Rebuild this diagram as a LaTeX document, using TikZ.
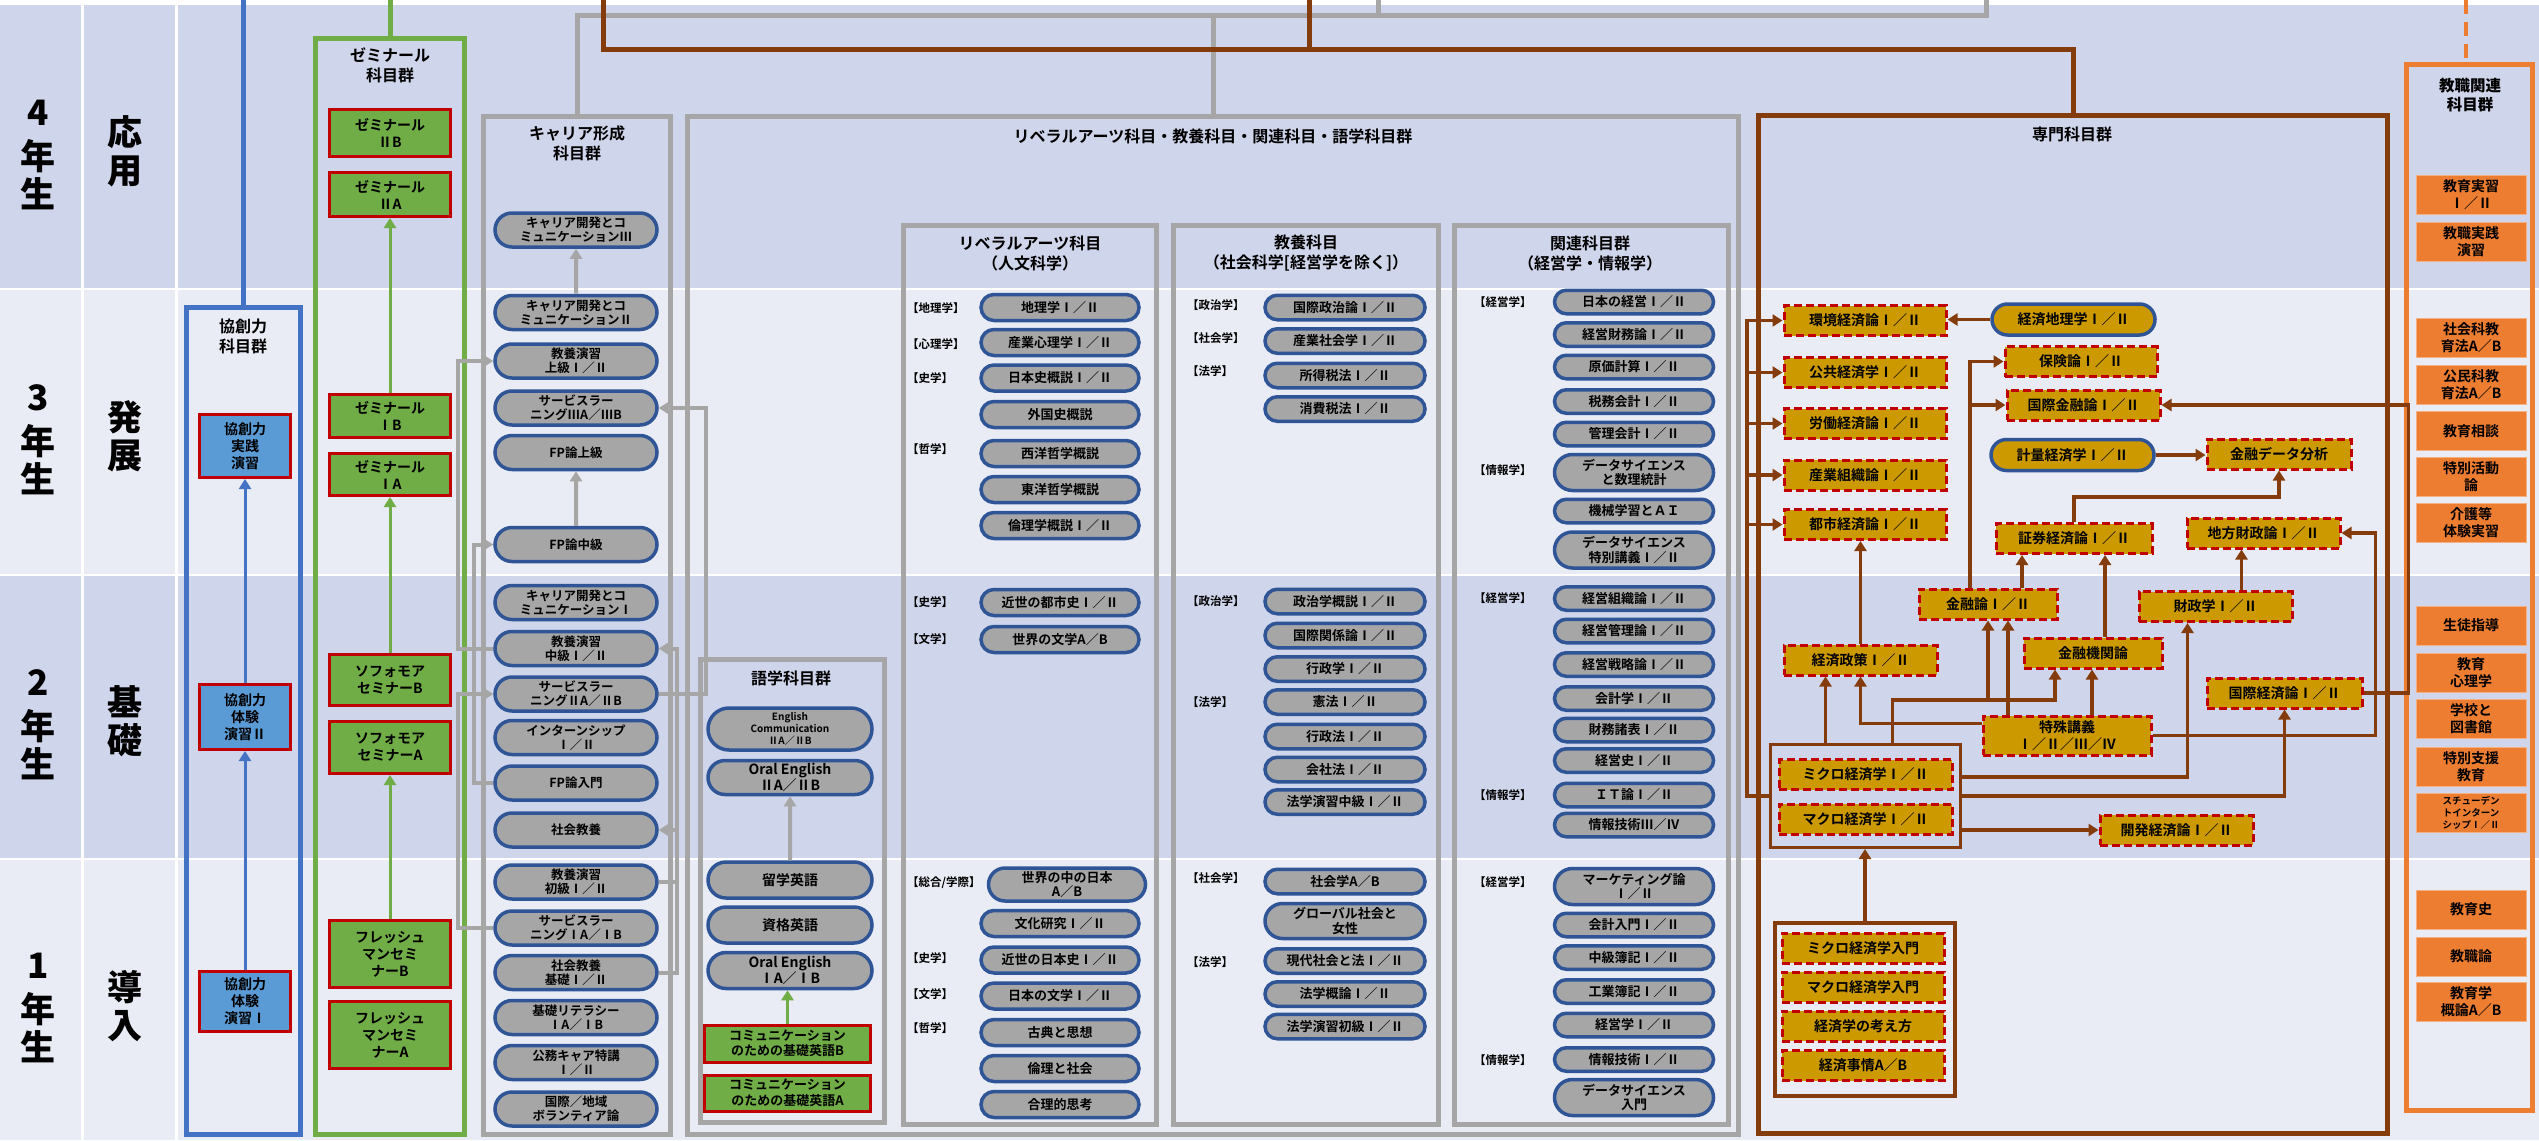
\documentclass[tikz,border=0pt]{standalone}
\usepackage{fontspec}
\setmainfont{Noto Sans CJK JP}[UprightFont=* Bold, BoldFont=* Black]
\usepackage{tikz}
\usetikzlibrary{
  arrows.meta,%
  % pill shaped course nodes
  shapes.misc,%
  calc,%
  positioning
}
\definecolor{banddark}{HTML}{CFD5EA}
\definecolor{bandlight}{HTML}{E9EBF5}
\definecolor{coursegray}{HTML}{A6A6A6}
\definecolor{courseblue}{HTML}{2F5597}
\definecolor{boxgray}{HTML}{A6A6A6}
\definecolor{semgreen}{HTML}{70AD47}
\definecolor{semred}{HTML}{C00000}
\definecolor{kyofill}{HTML}{5B9BD5}
\definecolor{kyoline}{HTML}{4472C4}
\definecolor{sengold}{HTML}{CC9900}
\definecolor{senbrown}{HTML}{843C0C}
\definecolor{kjorange}{HTML}{ED7D31}
\definecolor{kjlight}{HTML}{F4B183}

\tikzset{>={Triangle[length=10pt,width=12pt]}}
\tikzset{
  yearlab/.style={align=center, inner sep=0pt, font=\bfseries\fontsize{35}{38}\selectfont},
  grpbox/.style={draw, line width=5pt, inner sep=0pt},
  grptitle/.style={align=center, inner sep=0pt, font=\fontsize{16}{20}\selectfont},
  fieldlab/.style={anchor=west, inner sep=0pt, font=\fontsize{11.5}{12}\selectfont},
  course/.style={rounded rectangle, draw=courseblue, line width=3.5pt,
    fill=coursegray, minimum width=160pt, minimum height=26pt, inner sep=1pt,
    align=center, font=\fontsize{13}{14.5}\selectfont},
  seminar/.style={rectangle, draw=semred, line width=3pt, fill=semgreen,
    minimum width=121pt, inner sep=1pt, align=center, font=\fontsize{14}{17}\selectfont},
  kyoso/.style={seminar, fill=kyofill, minimum width=91pt},
  senmon/.style={rectangle, draw=semred, line width=3pt, dash pattern=on 8pt off 4pt,
    fill=sengold, minimum width=162pt, minimum height=30pt, inner sep=1pt,
    align=center, font=\fontsize{14}{16.5}\selectfont},
  senmonp/.style={course, fill=sengold, minimum width=165pt, minimum height=31pt,
    font=\fontsize{14}{16.5}\selectfont},
  kyoshoku/.style={rectangle, draw=kjlight, line width=1pt, fill=kjorange,
    minimum width=110pt, minimum height=39pt, inner sep=1pt, align=center,
    font=\fontsize{14}{17}\selectfont},
  boxline/.style={boxgray, line width=5pt},
  brline/.style={senbrown, line width=5pt},
  garrow/.style={->, boxgray, line width=4pt},
  barrow/.style={->, senbrown, line width=3.5pt},
  semarrow/.style={->, semgreen, line width=3pt},
  kyoarrow/.style={->, kyoline, line width=3pt}
}

\begin{document}
\begin{tikzpicture}[x=1pt,y=-1pt]
  \useasboundingbox (0,0) rectangle (2539,1140);
  % year bands
  \fill[banddark] (0,5) rectangle (2539,288);
  \fill[bandlight] (0,290) rectangle (2539,574);
  \fill[banddark] (0,576) rectangle (2539,858);
  \fill[bandlight] (0,860) rectangle (2539,1140);
  \draw[white, line width=3pt] (82.5,5) -- (82.5,1140) (176,5) -- (176,1140);

  \node[yearlab] (y4) at (38,155) {4\\[6pt]年\\生};
  \node[yearlab] (y3) at (38,440) {3\\[6pt]年\\生};
  \node[yearlab] (y2) at (38,725) {2\\[6pt]年\\生};
  \node[yearlab] (y1) at (38,1008) {1\\[6pt]年\\生};
  \node[yearlab] (s4) at (125,151) {応\\用};
  \node[yearlab] (s3) at (125,436) {発\\展};
  \node[yearlab] (s2) at (125,721) {基\\礎};
  \node[yearlab] (s1) at (125,1006) {導\\入};

  % group boxes
  \node[grpbox, draw=kyoline, minimum width=114pt, minimum height=827pt] (kyobox) at (243.5,721) {};
  \node[grpbox, draw=semgreen, minimum width=149pt, minimum height=1096pt] (sembox) at (390,586.5) {};
  \node[grpbox, draw=boxgray, minimum width=187pt, minimum height=1018pt] (carbox) at (577,625.5) {};
  \node[grpbox, draw=boxgray, minimum width=1051pt, minimum height=1018pt] (libbox) at (1213,625.5) {};
  \node[grpbox, draw=boxgray, minimum width=184pt, minimum height=463pt] (gogbox) at (792.5,891) {};
  \node[grpbox, draw=boxgray, minimum width=253pt, minimum height=899pt] (jinbox) at (1030,675) {};
  \node[grpbox, draw=boxgray, minimum width=265pt, minimum height=899pt] (kyobbox) at (1306,675) {};
  \node[grpbox, draw=boxgray, minimum width=274pt, minimum height=899pt] (kanbox) at (1591.5,675) {};
  \node[grpbox, draw=senbrown, minimum width=629pt, minimum height=1018pt] (senbox) at (2073,624.5) {};
  \node[grpbox, draw=kjorange, minimum width=126pt, minimum height=1046pt] (kjbox) at (2469.5,587.5) {};

  \node[grptitle] (kyotitle) at (243,336) {協創力\\科目群};
  \node[grptitle] (semtitle) at (390,65) {ゼミナール\\科目群};
  \node[grptitle] (cartitle) at (577,143) {キャリア形成\\科目群};
  \node[grptitle] (libtitle) at (1213,136) {リベラルアーツ科目・教養科目・関連科目・語学科目群};
  \node[grptitle] (gogtitle) at (791,678) {語学科目群};
  \node[grptitle] (jintitle) at (1030,253) {リベラルアーツ科目\\（人文科学）};
  \node[grptitle] (kyobtitle) at (1306,253) {教養科目\\（社会科学[経営学を除く]）};
  \node[grptitle] (kantitle) at (1590,253) {関連科目群\\（経営学・情報学）};
  \node[grptitle] (sentitle) at (2072,134) {専門科目群};
  \node[grptitle, font=\bfseries\fontsize{15.5}{19}\selectfont] (kjtitle) at (2470,95) {教職関連\\科目群};

  % lines from the top edge
  \coordinate (kyotop) at (243.5,0);
  \coordinate (semtop) at (390,0);
  \coordinate (graytop) at (1986,0);
  \coordinate (graytop2) at (1378,0);
  \coordinate (graybus) at (1986,16);
  \coordinate (browntop) at (603,0);
  \coordinate (browntop2) at (1309,0);
  \coordinate (orangetop) at (2466,0);
  \draw[kyoline, line width=5pt] (kyotop) -- (kyobox.north);
  \draw[semgreen, line width=5pt] (semtop) -- (sembox.north);
  \draw[boxline] (graytop) -- (graybus) -| (carbox.north);
  \draw[boxline] (graybus -| libbox.north) -- (libbox.north);
  \draw[boxline] (graytop2) -- (graytop2 |- graybus);
  \draw[brline] (browntop) -- (603,50) -| (senbox.north);
  \draw[brline] (browntop2) -- (1309,50);
  \draw[kjorange, line width=4pt, dash pattern=on 14pt off 8pt] (orangetop) -- (orangetop |- kjbox.north);

  % kyoso
  \node[kyoso, minimum height=63pt] (kyo3) at (245,446) {協創力\\実践\\演習};
  \node[kyoso, minimum height=65pt] (kyo2) at (245,717) {協創力\\体験\\演習Ⅱ};
  \node[kyoso, minimum height=60pt] (kyo1) at (245,1001) {協創力\\体験\\演習Ⅰ};
  \draw[kyoarrow] (kyo1) -- (kyo2);
  \draw[kyoarrow] (kyo2) -- (kyo3);

  % seminars
  \node[seminar, minimum height=47pt] (semIIB) at (390,133) {ゼミナール\\ⅡB};
  \node[seminar, minimum height=44pt] (semIIA) at (390,194.5) {ゼミナール\\ⅡA};
  \node[seminar, minimum height=43pt] (semIB) at (390,416) {ゼミナール\\ⅠB};
  \node[seminar, minimum height=42pt] (semIA) at (390,474.5) {ゼミナール\\ⅠA};
  \node[seminar, minimum height=51pt] (sophB) at (390,680) {ソフォモア\\セミナーB};
  \node[seminar, minimum height=52pt] (sophA) at (390,747.5) {ソフォモア\\セミナーA};
  \node[seminar, minimum height=67pt] (freshB) at (390,954) {フレッシュ\\マンセミ\\ナーB};
  \node[seminar, minimum height=67pt] (freshA) at (390,1035) {フレッシュ\\マンセミ\\ナーA};
  \draw[semarrow] (semIB) -- (semIIA);
  \draw[semarrow] (sophB) -- (semIA);
  \draw[semarrow] (freshB) -- (sophA);

  % career
  \foreach \n/\y/\t in {car3/230/{キャリア開発とコ\\ミュニケーションⅢ},
      car2/312.5/{キャリア開発とコ\\ミュニケーションⅡ}, kyoJ/361/{教養演習\\上級Ⅰ／Ⅱ},
      sl3/408/{サービスラー\\ニングⅢA／ⅢB}, fpJ/452.5/{FP論上級}, fpC/544.5/{FP論中級},
      car1/602.5/{キャリア開発とコ\\ミュニケーションⅠ}, kyoC/648.5/{教養演習\\中級Ⅰ／Ⅱ},
      sl2/694/{サービスラー\\ニングⅡA／ⅡB}, intern/737.5/{インターンシップ\\Ⅰ／Ⅱ},
      fpI/783/{FP論入門}, shakai/830/{社会教養}, kyoS/882/{教養演習\\初級Ⅰ／Ⅱ},
      sl1/928/{サービスラー\\ニングⅠA／ⅠB}, shakaiK/972.5/{社会教養\\基礎Ⅰ／Ⅱ},
      lit/1017.5/{基礎リテラシー\\ⅠA／ⅠB}, koumu/1062.5/{公務キャア特講\\Ⅰ／Ⅱ},
      volun/1109/{国際／地域\\ボランティア論}}
    \node[course, minimum width=164pt, minimum height=34pt, font=\fontsize{12.5}{14}\selectfont] (\n) at (576,\y) {\t};
  \draw[garrow] (car2) -- (car3);
  \draw[garrow] (fpC) -- (fpJ);
  \draw[garrow] (kyoC.west) -- ++(-35,0) |- (kyoJ.west);
  \draw[garrow] (sl1.west) -- ++(-35,0) |- (sl2.west);
  \draw[garrow] (fpI.west) -- ++(-19,0) |- (fpC.west);
  \draw[garrow] (sl2.east) -- ++(47,0) |- (sl3.east);
  \draw[garrow] (kyoS.east) -- ++(18,0) |- (kyoC.east);
  \draw[garrow] (shakaiK.east) -- ++(18,0) |- (shakai.east);

  % languages
  \node[course, minimum width=166pt, minimum height=42pt, font=\fontsize{10}{12}\selectfont] (engC) at (790,729) {English\\Communication\\ⅡA／ⅡB};
  \node[course, minimum width=166pt, minimum height=34pt, font=\fontsize{14}{15.5}\selectfont] (oralII) at (790,777.5) {Oral English\\ⅡA／ⅡB};
  \node[course, minimum width=166pt, minimum height=36pt, font=\fontsize{14}{15.5}\selectfont] (ryugaku) at (790,880) {留学英語};
  \node[course, minimum width=166pt, minimum height=36pt, font=\fontsize{14}{15.5}\selectfont] (shikaku) at (790,925) {資格英語};
  \node[course, minimum width=166pt, minimum height=36pt, font=\fontsize{14}{15.5}\selectfont] (oralI) at (790,970.5) {Oral English\\ⅠA／ⅠB};
  \node[seminar, minimum width=166pt, minimum height=37pt, font=\fontsize{13}{15.5}\selectfont] (kisoB) at (787.5,1043.5) {コミュニケーション\\のための基礎英語B};
  \node[seminar, minimum width=166pt, minimum height=36pt, font=\fontsize{13}{15.5}\selectfont] (kisoA) at (787.5,1093) {コミュニケーション\\のための基礎英語A};
  \draw[garrow] (ryugaku) -- (oralII);
  \draw[semarrow] (kisoB.north) -- (kisoB.north |- oralI.south);

  % liberal arts (humanities)
  \foreach \n/\y/\t in {la1/307.5/地理学Ⅰ／Ⅱ, la2/342.5/産業心理学Ⅰ／Ⅱ, la3/378/日本史概説Ⅰ／Ⅱ,
      la4/414.5/外国史概説, la5/453.5/西洋哲学概説, la6/489.5/東洋哲学概説,
      la7/525.5/倫理学概説Ⅰ／Ⅱ, la8/602.5/近世の都市史Ⅰ／Ⅱ, la9/639.5/世界の文学A／B,
      la11/923.5/文化研究Ⅰ／Ⅱ, la12/960/近世の日本史Ⅰ／Ⅱ, la13/996/日本の文学Ⅰ／Ⅱ,
      la14/1032.5/古典と思想, la15/1068.5/倫理と社会, la16/1104.5/合理的思考}
    \node[course] (\n) at (1060,\y) {\t};
  \node[course, minimum width=159pt, minimum height=33pt] (la10) at (1067,884.5) {世界の中の日本\\A／B};
  \foreach \n/\y/\t in {jl1/308/【地理学】, jl2/344/【心理学】, jl3/378/【史学】, jl4/449/【哲学】,
      jl5/602/【史学】, jl6/639/【文学】, jl7/883/{【総合/学際】}, jl8/958/【史学】,
      jl9/994/【文学】, jl10/1028/【哲学】}
    \node[fieldlab] (\n) at (907,\y) {\t};

  % general education (social sciences)
  \foreach \n/\y/\t in {ky1/307.5/国際政治論Ⅰ／Ⅱ, ky2/341/産業社会学Ⅰ／Ⅱ, ky3/375.5/所得税法Ⅰ／Ⅱ,
      ky4/409/消費税法Ⅰ／Ⅱ, ky5/601.5/政治学概説Ⅰ／Ⅱ, ky6/635.5/国際関係論Ⅰ／Ⅱ,
      ky7/669/行政学Ⅰ／Ⅱ, ky8/702/憲法Ⅰ／Ⅱ, ky9/736.5/行政法Ⅰ／Ⅱ, ky10/769.5/会社法Ⅰ／Ⅱ,
      ky11/802/法学演習中級Ⅰ／Ⅱ, ky12/881.5/社会学A／B, ky14/961/現代社会と法Ⅰ／Ⅱ,
      ky15/994/法学概論Ⅰ／Ⅱ, ky16/1026.5/法学演習初級Ⅰ／Ⅱ}
    \node[course, minimum width=162pt, minimum height=24.5pt] (\n) at (1345,\y) {\t};
  \node[course, minimum width=162pt, minimum height=35pt] (ky13) at (1345,921) {グローバル社会と\\女性};
  \foreach \n/\y/\t in {kl1/305/【政治学】, kl2/338/【社会学】, kl3/371/【法学】, kl4/601/【政治学】,
      kl5/702/【法学】, kl6/878/【社会学】, kl7/962/【法学】}
    \node[fieldlab] (\n) at (1187,\y) {\t};

  % related subjects
  \foreach \n/\y/\t in {kr1/302/日本の経営Ⅰ／Ⅱ, kr2/334.5/経営財務論Ⅰ／Ⅱ, kr3/367/原価計算Ⅰ／Ⅱ,
      kr4/401.5/税務会計Ⅰ／Ⅱ, kr5/434/管理会計Ⅰ／Ⅱ, kr7/511/機械学習とＡＩ,
      kr9/598.5/経営組織論Ⅰ／Ⅱ, kr10/631/経営管理論Ⅰ／Ⅱ, kr11/664.5/経営戦略論Ⅰ／Ⅱ,
      kr12/698.5/会計学Ⅰ／Ⅱ, kr13/730/財務諸表Ⅰ／Ⅱ, kr14/760.5/経営史Ⅰ／Ⅱ,
      kr15/795/ＩＴ論Ⅰ／Ⅱ, kr16/825/情報技術Ⅲ／Ⅳ, kr18/925/会計入門Ⅰ／Ⅱ,
      kr19/957.5/中級簿記Ⅰ／Ⅱ, kr20/991.5/工業簿記Ⅰ／Ⅱ, kr21/1025/経営学Ⅰ／Ⅱ,
      kr22/1059.5/情報技術Ⅰ／Ⅱ}
    \node[course, minimum width=161pt, minimum height=23.5pt] (\n) at (1634,\y) {\t};
  \foreach \n/\y/\t in {kr6/472.5/{データサイエンス\\と数理統計}, kr8/550/{データサイエンス\\特別講義Ⅰ／Ⅱ},
      kr17/886.5/{マーケティング論\\Ⅰ／Ⅱ}, kr23/1097.5/{データサイエンス\\入門}}
    \node[course, minimum width=161pt, minimum height=36pt] (\n) at (1634,\y) {\t};
  \foreach \n/\y/\t in {rl1/302/【経営学】, rl2/470/【情報学】, rl3/598/【経営学】, rl4/795/【情報学】,
      rl5/882/【経営学】, rl6/1060/【情報学】}
    \node[fieldlab] (\n) at (1474,\y) {\t};

  % specialised subjects
  \node[senmon] (kankyo) at (1865,320.5) {環境経済論Ⅰ／Ⅱ};
  \node[senmon] (kokyo) at (1865,372.5) {公共経済学Ⅰ／Ⅱ};
  \node[senmon] (rodo) at (1865,423.5) {労働経済論Ⅰ／Ⅱ};
  \node[senmon] (sangyo) at (1865,475) {産業組織論Ⅰ／Ⅱ};
  \node[senmon] (toshi) at (1865,524.5) {都市経済論Ⅰ／Ⅱ};
  \node[senmonp] (chiri) at (2073.5,319.5) {経済地理学Ⅰ／Ⅱ};
  \node[senmon, minimum width=152pt] (hoken) at (2081,361.5) {保険論Ⅰ／Ⅱ};
  \node[senmon, minimum width=153pt] (kokkin) at (2083.5,405) {国際金融論Ⅰ／Ⅱ};
  \node[senmonp] (keiryo) at (2072.5,455) {計量経済学Ⅰ／Ⅱ};
  \node[senmon, minimum width=144pt] (kindata) at (2279,454) {金融データ分析};
  \node[senmon, minimum width=156pt] (shoken) at (2074,538.5) {証券経済論Ⅰ／Ⅱ};
  \node[senmon, minimum width=153pt] (chiho) at (2263.5,533) {地方財政論Ⅰ／Ⅱ};
  \node[senmon, minimum width=138pt] (kinyu) at (1988,604) {金融論Ⅰ／Ⅱ};
  \node[senmon, minimum width=153pt] (zaisei) at (2215.5,606.5) {財政学Ⅰ／Ⅱ};
  \node[senmon, minimum width=153pt] (seisaku) at (1860.5,660) {経済政策Ⅰ／Ⅱ};
  \node[senmon, minimum width=138pt] (kikan) at (2093,653) {金融機関論};
  \node[senmon, minimum width=155pt] (kokkei) at (2284.5,693) {国際経済論Ⅰ／Ⅱ};
  \node[senmon, minimum width=168pt, minimum height=39pt] (tokushu) at (2067,735.5) {特殊講義\\Ⅰ／Ⅱ／Ⅲ／Ⅳ};
  \node[senmon, minimum width=173pt] (micro) at (1865.5,774.5) {ミクロ経済学Ⅰ／Ⅱ};
  \node[senmon, minimum width=173pt] (macro) at (1865.5,819) {マクロ経済学Ⅰ／Ⅱ};
  \node[grpbox, draw=senbrown, line width=3pt, minimum width=190pt, minimum height=103pt] (mmgrp) at (1865.5,796) {};
  \node[senmon, minimum width=153pt] (kaihatsu) at (2176.5,830) {開発経済論Ⅰ／Ⅱ};
  \node[senmon] (miIntro) at (1863,948) {ミクロ経済学入門};
  \node[senmon] (maIntro) at (1863,987) {マクロ経済学入門};
  \node[senmon] (kangae) at (1863,1026) {経済学の考え方};
  \node[senmon] (jijo) at (1863,1065.5) {経済事情A／B};
  \node[grpbox, draw=senbrown, line width=4pt, minimum width=180pt, minimum height=173pt] (introgrp) at (1865,1009.5) {};

  \coordinate (bus) at (1747,796);
  \draw[barrow] (mmgrp.west) -- (bus) |- (kankyo.west);
  \foreach \n in {kokyo,rodo,sangyo,toshi}
    \draw[barrow] (bus |- \n.west) -- (\n.west);
  \draw[barrow] (chiri.west) -- (chiri.west -| kankyo.east);
  \coordinate (kinyuL) at ([xshift=-18pt]kinyu.north);
  \draw[barrow] (kinyuL) |- (hoken.west);
  \draw[barrow] (kinyuL |- kokkin.west) -- (kokkin.west);
  \draw[barrow] (keiryo.east) -- (keiryo.east -| kindata.west);
  \draw[barrow] (shoken.north) -- ++(0,-25) -| (kindata.south);
  \draw[barrow] (tokushu.east) -- ++(223,0) |- (chiho.east);
  \draw[barrow] (kokkei.east) -- ++(45,0) |- (kokkin.east);
  \coordinate (zaiseiU) at ([xshift=26pt]zaisei.north);
  \draw[barrow] (zaiseiU) -- (zaiseiU |- chiho.south);
  \coordinate (kinyuR) at ([xshift=34pt]kinyu.north);
  \draw[barrow] (kinyuR) -- (kinyuR |- shoken.south);
  \coordinate (kikanU) at ([xshift=12pt]kikan.north);
  \draw[barrow] (kikanU) -- (kikanU |- shoken.south);
  \draw[barrow] (seisaku.north) -- (seisaku.north |- toshi.south);
  \coordinate (mmL) at ([xshift=-40pt]mmgrp.north);
  \draw[barrow] (mmL) -- (mmL |- seisaku.south);
  \coordinate (tokuL) at ([yshift=12pt]tokushu.west);
  \draw[barrow] (tokuL) -| (seisaku.south);
  \coordinate (mmM) at ([xshift=27pt]mmgrp.north);
  \coordinate (kikanL) at ([xshift=-38pt]kikan.south);
  \draw[barrow] (mmM) -- ++(0,-43) coordinate (jn) -| (kikanL);
  \draw[barrow] (jn -| kinyu.south) -- (kinyu.south);
  \coordinate (tokuM) at ([xshift=-59pt]tokushu.north);
  \draw[barrow] (tokuM) -- (tokuM |- kinyu.south);
  \coordinate (tokuR) at ([xshift=25pt]tokushu.north);
  \draw[barrow] (tokuR) -- (tokuR |- kikan.south);
  \coordinate (mmE) at ([yshift=19pt]mmgrp.east);
  \coordinate (zaiseiL) at ([xshift=-28pt]zaisei.south);
  \draw[barrow] (mmE) -| (zaiseiL);
  \draw[barrow] (mmgrp.east) -| (kokkei.south);
  \draw[barrow] (mmgrp.east |- kaihatsu.west) -- (kaihatsu.west);
  \draw[barrow] (introgrp.north) -- (introgrp.north |- mmgrp.south);

  % teacher training
  \foreach \n/\y/\t in {kj1/194.5/{教育実習\\Ⅰ／Ⅱ}, kj2/242/{教職実践\\演習}, kj3/338/{社会科教\\育法A／B},
      kj4/385/{公民科教\\育法A／B}, kj5/431/教育相談, kj6/477/{特別活動\\論}, kj7/523/{介護等\\体験実習},
      kj8/625.5/生徒指導, kj9/672.5/{教育\\心理学}, kj10/718.5/{学校と\\図書館}, kj11/766.5/{特別支援\\教育},
      kj13/909.5/教育史, kj14/956.5/教職論, kj15/1001.5/{教育学\\概論A／B}}
    \node[kyoshoku] (\n) at (2471,\y) {\t};
  \node[kyoshoku, font=\fontsize{9.5}{12}\selectfont] (kj12) at (2471,812.5) {スチューデン\\トインターン\\シップⅠ／Ⅱ};
\end{tikzpicture}
\end{document}
